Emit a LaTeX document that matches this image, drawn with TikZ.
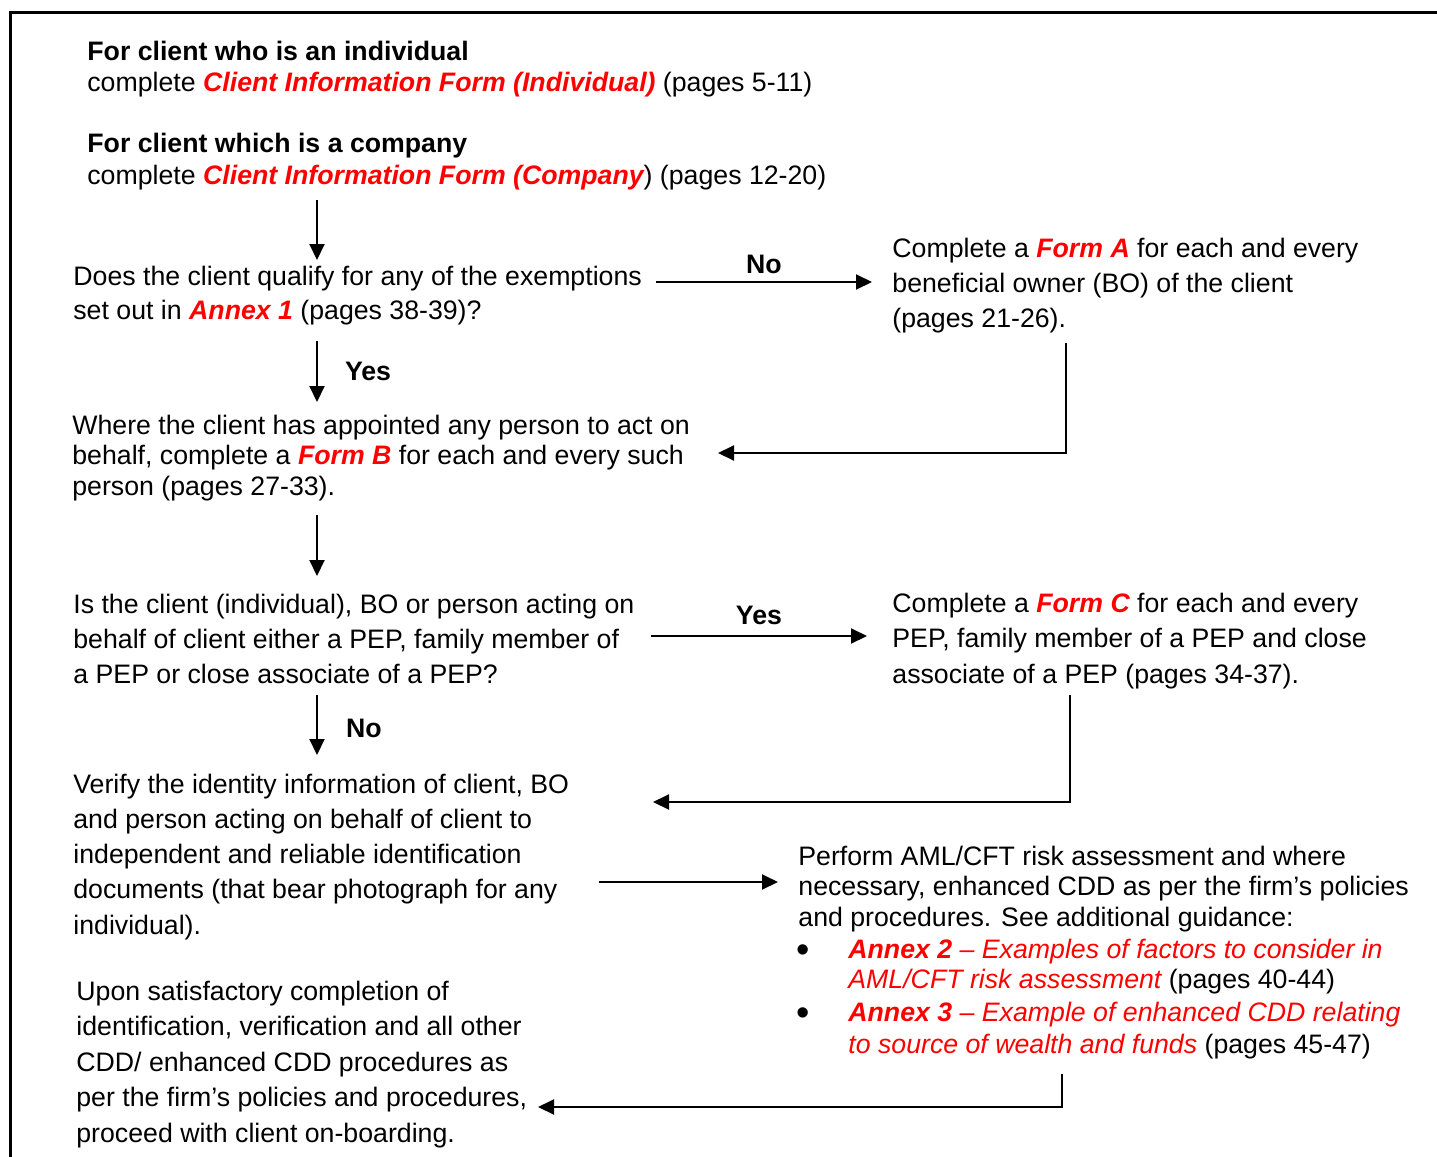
\documentclass[tikz,border=0pt]{standalone}
\usepackage{fontspec}
\setmainfont{Liberation Sans}
\usepackage{xcolor}
\usetikzlibrary{arrows.meta}
\usetikzlibrary{positioning}

\newcommand{\formref}[1]{\textcolor{red}{\bfseries\itshape #1}}
\newcommand{\annexit}[1]{\textcolor{red}{\itshape #1}}

\tikzset{
  txt/.style={anchor=base west, inner sep=0pt, align=left, font=\fontsize{13.35}{#1}\selectfont},
  txt/.default=17,
  bul/.style={anchor=base west, inner sep=0pt, font=\fontsize{19}{19}\selectfont},
  flow/.style={line width=1pt, -{Triangle[length=8pt,width=7.5pt]}},
  lbl/.style={inner sep=0pt, font=\fontsize{13.35}{15}\selectfont\bfseries},
}

\begin{document}
\begin{tikzpicture}[x=0.5pt,y=0.5pt,yscale=-1,xscale=1]
  \useasboundingbox (0,0) rectangle (1437,1157);

  %Frame
  \draw [line width=1.5pt] (1445,12.5) -- (10.5,12.5) -- (10.5,1165);

  % Text Node (placed at the baseline of the last line)
  \node (indiv) [txt=15.5] at (87,91) {\textbf{For client who is an individual}\\complete \formref{Client Information Form (Individual)} (pages 5-11)};
  % Text Node
  \node (company) [txt=16] at (87,184) {\textbf{For client which is a company}\\complete \formref{Client Information Form (Company}) (pages 12-20)};
  % Text Node
  \node (exempt) [txt=17] at (73,319) {Does the client qualify for any of the exemptions\\set out in \formref{Annex 1} (pages 38-39)?};
  % Text Node
  \node (formA) [txt=17.5] at (892,327) {Complete a \formref{Form A} for each and every\\beneficial owner (BO) of the client\\(pages 21-26).};
  % Text Node
  \node (formB) [txt=15.25] at (72,495) {Where the client has appointed any person to act on\\behalf, complete a \formref{Form B} for each and every such\\person (pages 27-33).};
  % Text Node
  \node (pep) [txt=17.5] at (73,683) {Is the client (individual), BO or person acting on\\behalf of client either a PEP, family member of\\a PEP or close associate of a PEP?};
  % Text Node
  \node (formC) [txt=17.75] at (892,683) {Complete a \formref{Form C} for each and every\\PEP, family member of a PEP and close\\associate of a PEP (pages 34-37).};
  % Text Node
  \node (verify) [txt=17.6] at (73,934) {Verify the identity information of client, BO\\and person acting on behalf of client to\\independent and reliable identification\\documents (that bear photograph for any\\individual).};
  % Text Node
  \node (risk) [txt=15.25] at (798,926) {Perform AML/CFT risk assessment and where\\necessary, enhanced CDD as per the firm’s policies\\and procedures. See additional guidance:};
  % Text Node
  \node (bulA) [bul] at (796,962) {•};
  \node (annexA) [txt=15] at (848,988) {\formref{Annex 2} \annexit{– Examples of factors to consider in}\\\annexit{AML/CFT risk assessment} (pages 40-44)};
  % Text Node
  \node (bulB) [bul] at (796,1025) {•};
  \node (annexB) [txt=16] at (848,1053) {\formref{Annex 3} \annexit{– Example of enhanced CDD relating}\\\annexit{to source of wealth and funds} (pages 45-47)};
  % Text Node
  \node (onboard) [txt=17.75] at (76,1142) {Upon satisfactory completion of\\identification, verification and all other\\CDD/ enhanced CDD procedures as\\per the firm’s policies and procedures,\\proceed with client on-boarding.};

  %Connector ends
  \coordinate (startTop) at (317,200);
  \coordinate (startBot) at (317,260);
  \coordinate (noAL) at (656,282);
  \coordinate (noAR) at (872,282);
  \coordinate (yesAT) at (317,341);
  \coordinate (yesAB) at (317,402);
  \coordinate (backA) at (1066,343);
  \coordinate (backAend) at (718,453);
  \coordinate (formBT) at (317,515);
  \coordinate (formBB) at (317,576);
  \coordinate (yesBL) at (651,636);
  \coordinate (yesBR) at (867,636);
  \coordinate (backC) at (1070,695);
  \coordinate (backCend) at (653,802);
  \coordinate (noBT) at (317,695);
  \coordinate (noBB) at (317,755);
  \coordinate (verL) at (599,882);
  \coordinate (verR) at (778,882);
  \coordinate (backR) at (1062,1074);
  \coordinate (backRend) at (538,1107);

  %Straight Lines
  \draw [flow] (startTop) -- (startBot);
  \draw [flow] (noAL) -- node [lbl, above, yshift=3.5pt] {No} (noAR);
  \draw [flow] (yesAT) -- node [lbl, right, xshift=13.5pt] {Yes} (yesAB);
  \draw [flow] (backA) |- (backAend);
  \draw [flow] (formBT) -- (formBB);
  \draw [flow] (yesBL) -- node [lbl, above, yshift=5pt] {Yes} (yesBR);
  \draw [flow] (backC) |- (backCend);
  \draw [flow] (noBT) -- node [lbl, right, xshift=14pt, yshift=-1.5pt] {No} (noBB);
  \draw [flow] (verL) -- (verR);
  \draw [flow] (backR) |- (backRend);
\end{tikzpicture}
\end{document}
